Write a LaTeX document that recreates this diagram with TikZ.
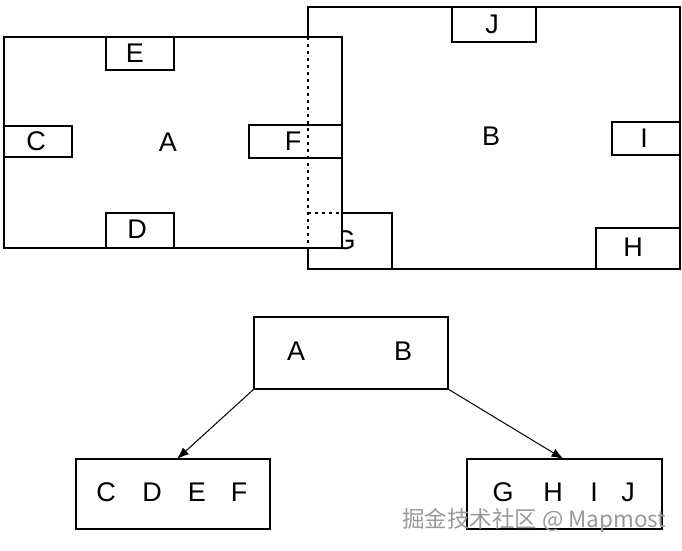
\documentclass[tikz,border=0pt]{standalone}
\usepackage{fontspec}
\setmainfont{Liberation Sans}
\newfontfamily\cjk{Noto Sans CJK SC}
\usetikzlibrary{arrows.meta}
\begin{document}
\begin{tikzpicture}[x=1pt,y=-1pt,
  box/.style={draw=black, line width=1.5pt, fill=white, rectangle, inner sep=0pt, outer sep=0pt},
  lbl/.style={font=\fontsize{27}{27}\selectfont, inner sep=0pt},
  hidden/.style={line width=2.2pt, dash pattern=on 2.5pt off 4.5pt},
  arr/.style={line width=1pt, -{Latex[length=12pt,width=9pt]}}]
\useasboundingbox (0,0) rectangle (682,550);
% ---- region B with its sub boxes ----
\node[box, minimum width=372pt, minimum height=262pt] (B) at (494,138) {};
\node[lbl] (Blab) at (491,136) {B};
\node[box, minimum width=84pt, minimum height=35pt] (J) at (494,24.5) {};
\node[lbl] (Jlab) at (492,24) {J};
\node[box, minimum width=68pt, minimum height=33pt] (I) at (646,138.5) {};
\node[lbl] (Ilab) at (644,138) {I};
\node[box, minimum width=84pt, minimum height=41pt] (H) at (638,248.5) {};
\node[lbl] (Hlab) at (633,247) {H};
\node[box, minimum width=84pt, minimum height=56pt] (G) at (350,241) {};
\node[lbl] (Glab) at (345,240) {G};
% ---- region A, on top ----
\node[box, minimum width=338pt, minimum height=211pt] (A) at (173,142.5) {};
\node[lbl] (Alab) at (168,142) {A};
\node[box, minimum width=68pt, minimum height=33pt] (E) at (140,53.5) {};
\node[lbl] (Elab) at (135,53) {E};
\node[box, minimum width=68pt, minimum height=31pt] (C) at (38,141.5) {};
\node[lbl] (Clab) at (36,141) {C};
\node[box, minimum width=68pt, minimum height=35pt] (D) at (140,230.5) {};
\node[lbl] (Dlab) at (137,229) {D};
\node[box, minimum width=93pt, minimum height=33pt] (F) at (295.5,141.5) {};
\node[lbl] (Flab) at (293,141) {F};
% hidden edges of B under A
\draw[hidden] (B.north west |- A.north) -- (B.north west |- A.south);
\draw[hidden] (G.north west) -- (G.north west -| A.east);
% ---- tree ----
\node[box, minimum width=194pt, minimum height=72pt] (AB) at (351,353) {};
\node[lbl] (ABa) at (296,351) {A};
\node[lbl] (ABb) at (403,351) {B};
\node[box, minimum width=194pt, minimum height=70pt] (CDEF) at (173,494) {};
\node[lbl] (c1) at (106,492) {C};
\node[lbl] (c2) at (152,492) {D};
\node[lbl] (c3) at (197,492) {E};
\node[lbl] (c4) at (239,492) {F};
\node[box, minimum width=195pt, minimum height=70pt] (GHIJ) at (564.5,494) {};
\node[lbl] (g1) at (503,492) {G};
\node[lbl] (g2) at (553,492) {H};
\node[lbl] (g3) at (594,492) {I};
\node[lbl] (g4) at (628,492) {J};
\draw[arr] (AB.south west) -- ([xshift=4pt]CDEF.north);
\draw[arr] (AB.south east) -- ([xshift=-1pt]GHIJ.north);
% watermark
\node[font=\cjk\fontsize{22.5}{22.5}\selectfont, text=gray!80, inner sep=0pt, anchor=west] (wm) at (402,521) {掘金技术社区 @ Mapmost};
\end{tikzpicture}
\end{document}
